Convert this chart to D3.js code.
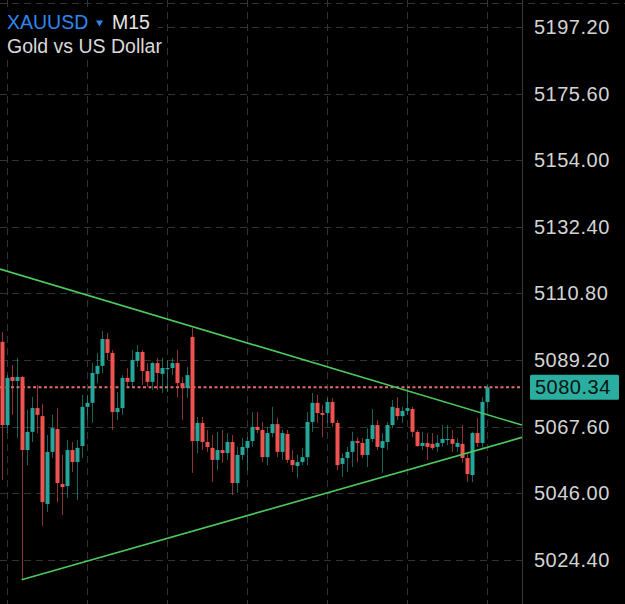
<!DOCTYPE html>
<html><head><meta charset="utf-8">
<script src="https://cdn.jsdelivr.net/npm/d3@7/dist/d3.min.js"></script>
<style>html,body{margin:0;padding:0;background:#000;}svg{display:block;}</style>
</head><body>
<script>
const symbol = "XAUUSD";
const timeframe = "M15";
const subtitle = "Gold vs US Dollar";
const lastPrice = 5080.34;
const priceTicks = [5197.20, 5175.60, 5154.00, 5132.40, 5110.80, 5089.20, 5067.60, 5046.00, 5024.40];
const timeGridIdx = [1, 17, 33, 49, 65, 81, 97];

const opens = [5095.1,5068.1,5083.7,5082.4,5083.7,5060.0,5065.9,5073.6,5071.0,5042.5,
5059.4,5066.8,5049.0,5048.3,5060.0,5056.1,5061.3,5074.0,5075.3,5084.7,
5087.3,5096.0,5091.5,5072.3,5073.6,5083.4,5082.1,5088.9,5091.8,5085.6,
5082.1,5088.2,5084.7,5086.3,5086.6,5088.2,5081.7,5080.1,5096.7,5062.9,
5068.8,5062.6,5060.7,5056.8,5060.0,5059.0,5062.6,5049.3,5058.4,5060.7,
5062.9,5067.5,5066.5,5057.7,5065.5,5068.4,5059.4,5065.2,5056.8,5054.8,
5056.1,5057.7,5069.1,5075.3,5072.0,5072.0,5075.6,5068.8,5055.5,5057.4,
5059.4,5062.9,5062.3,5058.4,5063.6,5068.1,5060.7,5062.6,5068.1,5073.6,
5071.0,5072.7,5073.3,5065.9,5061.3,5062.3,5062.0,5061.0,5062.3,5063.3,
5063.6,5061.0,5062.0,5057.4,5051.9,5065.5,5062.3,5075.6];
const highs = [5098.3,5084.3,5087.6,5089.9,5084.0,5073.0,5077.2,5081.1,5074.9,5064.9,
5071.4,5073.6,5058.4,5063.3,5062.6,5063.3,5077.9,5077.9,5088.2,5091.5,
5098.6,5098.0,5092.5,5078.8,5084.3,5086.6,5092.5,5094.1,5092.5,5088.2,
5088.6,5089.9,5089.9,5089.2,5089.9,5092.5,5083.7,5086.9,5099.6,5070.7,
5070.7,5066.5,5064.9,5065.9,5066.5,5065.5,5064.9,5061.0,5063.9,5064.2,
5072.3,5072.3,5069.1,5067.5,5074.0,5070.4,5066.5,5066.5,5060.0,5058.4,
5060.7,5072.3,5078.5,5077.9,5074.6,5076.9,5076.9,5069.7,5059.0,5061.0,
5065.9,5064.2,5063.9,5067.1,5073.3,5069.7,5065.5,5069.1,5076.2,5077.2,
5074.0,5079.5,5074.0,5066.5,5065.9,5065.5,5065.5,5064.9,5068.1,5068.1,
5066.5,5063.9,5068.1,5058.7,5065.9,5070.4,5077.2,5081.1];
const lows = [5050.3,5065.5,5071.4,5063.9,5017.9,5055.1,5062.6,5065.5,5035.4,5039.9,
5057.4,5043.1,5038.9,5044.4,5052.9,5043.8,5057.4,5069.7,5068.8,5081.7,
5085.0,5089.2,5066.5,5069.7,5071.4,5080.5,5080.5,5086.9,5081.1,5080.5,
5079.5,5079.5,5078.5,5078.8,5084.3,5077.2,5069.7,5076.9,5052.6,5059.0,
5060.0,5059.4,5049.6,5053.5,5055.8,5056.8,5045.4,5046.1,5056.8,5053.5,
5061.0,5065.5,5056.1,5055.1,5064.2,5057.7,5056.8,5055.8,5052.9,5050.9,
5055.1,5055.1,5065.9,5068.8,5064.2,5068.8,5067.5,5053.5,5051.3,5052.9,
5054.5,5056.1,5057.4,5054.5,5062.6,5060.0,5052.6,5060.0,5067.1,5069.7,
5068.8,5071.4,5064.2,5061.0,5060.0,5056.8,5060.0,5059.4,5061.0,5061.6,
5059.4,5059.4,5055.8,5049.6,5049.6,5061.0,5060.7,5073.6];
const closes = [5068.1,5083.4,5082.4,5083.7,5060.0,5065.9,5073.6,5071.4,5043.1,5059.4,
5067.1,5049.3,5048.0,5060.0,5056.1,5060.7,5074.0,5075.3,5085.0,5087.3,
5096.0,5091.5,5072.3,5073.6,5083.4,5082.1,5089.2,5091.8,5085.6,5082.1,
5088.2,5085.0,5086.6,5086.6,5088.2,5081.7,5080.1,5084.3,5062.9,5068.8,
5062.6,5061.0,5056.8,5060.0,5059.0,5062.6,5049.3,5058.4,5061.0,5062.9,
5067.5,5066.5,5057.7,5065.5,5068.4,5059.4,5065.5,5056.8,5055.1,5056.1,
5057.7,5069.1,5075.3,5072.0,5071.4,5075.6,5068.8,5055.1,5057.4,5059.4,
5062.9,5062.3,5058.4,5063.6,5068.1,5061.0,5062.9,5068.1,5074.0,5071.0,
5072.7,5073.6,5065.9,5061.3,5062.3,5061.0,5060.7,5062.3,5063.6,5063.6,
5062.0,5062.3,5057.4,5052.2,5065.5,5062.3,5075.6,5080.34];

// trend lines: [candle index, price]
const upperTrend = [[-0.32, 5118.7], [104.08, 5068.1]];
const lowerTrend = [[4, 5017.9], [104.08, 5064.1]];

const W = 625, H = 604, plotRight = 522;
const UP = "#26a69a", DOWN = "#ef5350";

const svg = d3.select("body").append("svg").attr("width", W).attr("height", H)
  .style("background", "#000");

const x = d3.scaleLinear().domain([0, 97]).range([1.6, 486.6]);
const y = d3.scaleLinear().domain([5024.4, 5197.2]).range([559.8, 27]);

const candles = opens.map((o, i) => ({i, o, h: highs[i], l: lows[i], c: closes[i]}));

svg.append("defs").append("clipPath").attr("id", "plot")
  .append("rect").attr("x", 0).attr("y", 0).attr("width", plotRight).attr("height", H);

const grid = svg.append("g");
const gridColor = "#333333";
grid.append("line").attr("x1", 0).attr("x2", W).attr("y1", 3.5).attr("y2", 3.5)
  .attr("stroke", gridColor).attr("stroke-dasharray", "7,5");
grid.selectAll("line.h").data(priceTicks).join("line").attr("class", "h")
  .attr("x1", 0).attr("x2", plotRight)
  .attr("y1", d => Math.round(y(d)) + 0.5).attr("y2", d => Math.round(y(d)) + 0.5)
  .attr("stroke", gridColor).attr("stroke-dasharray", "7,5");
grid.selectAll("line.v").data(timeGridIdx).join("line").attr("class", "v")
  .attr("x1", d => Math.round(x(d)) + 0.5).attr("x2", d => Math.round(x(d)) + 0.5)
  .attr("y1", 0).attr("y2", H)
  .attr("stroke", gridColor).attr("stroke-dasharray", "7,5");

const plot = svg.append("g").attr("clip-path", "url(#plot)");

// price line
plot.append("line").attr("x1", 0).attr("x2", plotRight)
  .attr("y1", y(lastPrice)).attr("y2", y(lastPrice))
  .attr("stroke", "#e06c6c").attr("stroke-width", 2).attr("stroke-dasharray", "3,2.5");

// wicks
plot.selectAll("line.wick").data(candles).join("line").attr("class", "wick")
  .attr("x1", d => Math.round(x(d.i)) + 0.5).attr("x2", d => Math.round(x(d.i)) + 0.5)
  .attr("y1", d => y(d.h)).attr("y2", d => y(d.l))
  .attr("stroke", d => d.c >= d.o ? UP : DOWN).attr("stroke-opacity", 0.6).attr("stroke-width", 1);

// bodies
plot.selectAll("rect.body").data(candles).join("rect").attr("class", "body")
  .attr("x", d => Math.round(x(d.i)) - 1.5)
  .attr("width", 4)
  .attr("y", d => y(Math.max(d.o, d.c)))
  .attr("height", d => Math.max(1.2, Math.abs(y(d.o) - y(d.c))))
  .attr("fill", d => d.c >= d.o ? UP : DOWN);

// trend lines
const line = d3.line().x(d => x(d[0])).y(d => y(d[1]));
[upperTrend, lowerTrend].forEach(t => {
  plot.append("path").attr("d", line(t)).attr("fill", "none")
    .attr("stroke", "#4cc95c").attr("stroke-width", 1.6);
});

// axis border
svg.append("line").attr("x1", plotRight + 0.5).attr("x2", plotRight + 0.5).attr("y1", 0).attr("y2", H)
  .attr("stroke", "#3a3a3a");

// right axis
const axis = d3.axisRight(y).tickValues(priceTicks).tickSize(0).tickPadding(12)
  .tickFormat(d => d.toFixed(2));
const ag = svg.append("g").attr("transform", `translate(${plotRight},0)`).call(axis);
ag.select(".domain").remove();
ag.selectAll("text").attr("fill", "#d4d4d4").style("font-family", "'Liberation Sans', Arial, sans-serif")
  .style("font-size", "20px").style("letter-spacing", "0.5px");

// last price label
const ly = y(lastPrice);
svg.append("rect").attr("x", 530).attr("y", ly - 12.5).attr("width", 89).attr("height", 25)
  .attr("fill", "#2aae9f").attr("rx", 1.5);
svg.append("text").attr("x", 535).attr("y", ly).attr("dy", "0.35em")
  .attr("fill", "#071412").style("font-family", "'Liberation Sans', Arial, sans-serif")
  .style("font-size", "20px").style("letter-spacing", "0.5px").text(lastPrice.toFixed(2));

// header
svg.append("rect").attr("x", 0).attr("y", 12).attr("width", 158).attr("height", 44).attr("fill", "#000");
const hf = "'Liberation Sans', Arial, sans-serif";
svg.append("text").attr("x", 7).attr("y", 28.5).attr("fill", "#2f86f0")
  .style("font-family", hf).style("font-size", "19.5px").text(symbol);
svg.append("path").attr("d", "M96,20.5 L103,20.5 L99.5,26.5 Z").attr("fill", "#2f86f0");
svg.append("text").attr("x", 112).attr("y", 28.5).attr("fill", "#e6e6e6")
  .style("font-family", hf).style("font-size", "19.5px").text(timeframe);
svg.append("text").attr("x", 7).attr("y", 53).attr("fill", "#d9d9d9")
  .style("font-family", hf).style("font-size", "19.5px").text(subtitle);
</script>
</body></html>
